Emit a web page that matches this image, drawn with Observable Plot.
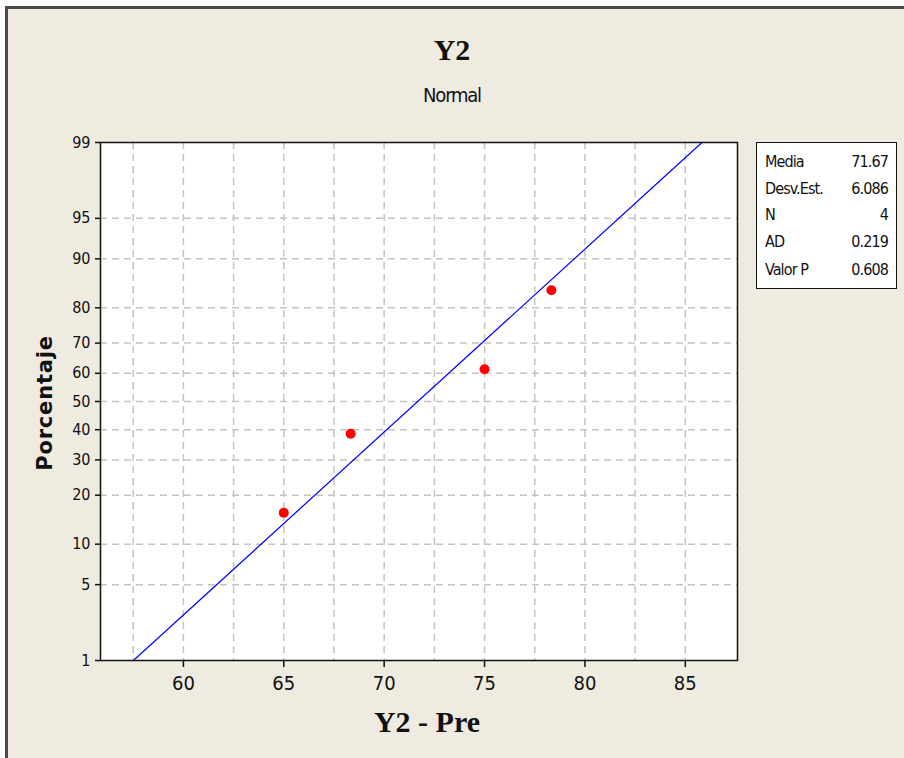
<!DOCTYPE html>
<html>
<head>
<meta charset="utf-8">
<script src="https://cdn.jsdelivr.net/npm/d3@7"></script>
<script src="https://cdn.jsdelivr.net/npm/@observablehq/plot@0.6"></script>
<style>
  html, body { margin: 0; padding: 0; background: #ffffff; }
  #page { position: relative; width: 904px; height: 758px; overflow: hidden; }
  #bg { position: absolute; left: 5px; top: 6px; width: 910px; height: 770px;
        background: #EFEBE1; border-left: 3px solid #4a4a4a; border-top: 3px solid #4a4a4a; }
  #chart { position: absolute; left: 0; top: 0; }
  #chart svg text { font-stretch: condensed; }
  .ov { position: absolute; color: #111; white-space: nowrap; }
  #title { left: 0; width: 904px; top: 33px; text-align: center; font: bold 30px "Liberation Serif", "DejaVu Serif", serif; }
  #subtitle { left: 0; width: 904px; top: 83px; text-align: center; font: 20px "DejaVu Sans Condensed", "DejaVu Sans", sans-serif; font-stretch: condensed; letter-spacing: -1.2px; }
  #xlabel { left: 277px; width: 300px; top: 705px; text-align: center; font: bold 30px "Liberation Serif", "DejaVu Serif", serif; }
  #ylabel { left: 45px; top: 403px; transform: translate(-50%, -50%) rotate(-90deg); font: bold 21px "DejaVu Sans", sans-serif; letter-spacing: 0.8px; }
  #stats { position: absolute; left: 756px; top: 142px; width: 139px; height: 145px; background: #fff; border: 1px solid #111; box-sizing: content-box; }
  #stats div { position: absolute; left: 8px; right: 8px; height: 20px; font: 16px "DejaVu Sans Condensed", "DejaVu Sans", sans-serif; font-stretch: condensed; letter-spacing: -0.9px; color: #111; }
  #stats span.v { position: absolute; right: 0; }
</style>
</head>
<body>
<div id="page">
  <div id="bg"></div>
  <div id="chart"></div>
  <div class="ov" id="title">Y2</div>
  <div class="ov" id="subtitle">Normal</div>
  <div class="ov" id="xlabel">Y2 - Pre</div>
  <div class="ov" id="ylabel">Porcentaje</div>
  <div id="stats"></div>
</div>
<script>
// ---- data ----
const obsX = [65, 68.33, 75, 78.33];
const obsP = [15.9, 38.6, 61.4, 84.1];
const fitX = [57.51, 85.83];
const fitP = [1, 99];
const xTicks = [60, 65, 70, 75, 80, 85];
const xGrid = [57.5, 60, 62.5, 65, 67.5, 70, 72.5, 75, 77.5, 80, 82.5, 85];
const pTicks = [1, 5, 10, 20, 30, 40, 50, 60, 70, 80, 90, 95, 99];
const pGrid = [5, 10, 20, 30, 40, 50, 60, 70, 80, 90, 95];
const statLabels = ["Media", "Desv.Est.", "N", "AD", "Valor P"];
const statValues = ["71.67", "6.086", "4", "0.219", "0.608"];

// inverse normal CDF (Acklam) for the probability scale
function probit(p) {
  const a = [-3.969683028665376e+01, 2.209460984245205e+02, -2.759285104469687e+02, 1.383577518672690e+02, -3.066479806614716e+01, 2.506628277459239e+00];
  const b = [-5.447609879822406e+01, 1.615858368580409e+02, -1.556989798598866e+02, 6.680131188771972e+01, -1.328068155288572e+01];
  const c = [-7.784894002430293e-03, -3.223964580411365e-01, -2.400758277161838e+00, -2.549732539343734e+00, 4.374664141464968e+00, 2.938163982698783e+00];
  const d = [7.784695709041462e-03, 3.224671290700398e-01, 2.445134137142996e+00, 3.754408661907416e+00];
  const pl = 0.02425, ph = 1 - pl;
  let q, r;
  if (p < pl) { q = Math.sqrt(-2 * Math.log(p)); return (((((c[0]*q+c[1])*q+c[2])*q+c[3])*q+c[4])*q+c[5]) / ((((d[0]*q+d[1])*q+d[2])*q+d[3])*q+1); }
  if (p <= ph) { q = p - 0.5; r = q*q; return (((((a[0]*r+a[1])*r+a[2])*r+a[3])*r+a[4])*r+a[5])*q / (((((b[0]*r+b[1])*r+b[2])*r+b[3])*r+b[4])*r+1); }
  q = Math.sqrt(-2 * Math.log(1 - p));
  return -(((((c[0]*q+c[1])*q+c[2])*q+c[3])*q+c[4])*q+c[5]) / ((((d[0]*q+d[1])*q+d[2])*q+d[3])*q+1);
}
const zOf = p => probit(p / 100);

const obs = obsX.map((x, i) => ({x, z: zOf(obsP[i])}));
const fit = fitX.map((x, i) => ({x, z: zOf(fitP[i])}));
const zTicks = pTicks.map(zOf);
const zLabel = new Map(pTicks.map(p => [zOf(p), String(p)]));

const tickFont = '"DejaVu Sans Condensed", "DejaVu Sans", sans-serif';

const chart = Plot.plot({
  width: 904, height: 758,
  marginLeft: 100, marginRight: 167, marginTop: 142, marginBottom: 98,
  style: { background: "transparent", color: "#111", fontFamily: tickFont },
  x: { domain: [55.87, 87.6] },
  y: { domain: [zOf(1), zOf(99)] },
  marks: [
    Plot.frame({ fill: "white" }),
    Plot.ruleX(xGrid, { stroke: "#c4c4c4", strokeWidth: 1.5, strokeDasharray: "7,5" }),
    Plot.ruleY(pGrid.map(zOf), { stroke: "#c4c4c4", strokeWidth: 1.5, strokeDasharray: "7,5" }),
    Plot.line(fit, { x: "x", y: "z", stroke: "#0000ff", strokeWidth: 1.2 }),
    Plot.dot(obs, { x: "x", y: "z", r: 5, fill: "#ff0000", stroke: "none" }),
    Plot.frame({ stroke: "#111", strokeWidth: 1.5 }),
    Plot.axisX({ ticks: xTicks, tickSize: 7, tickPadding: 8, fontSize: 20, label: null, stroke: "#111", strokeWidth: 1.5, letterSpacing: -1.2 }),
    Plot.axisY({ ticks: zTicks, tickSize: 5, tickPadding: 5, fontSize: 16, label: null, stroke: "#111", strokeWidth: 1.5,
                 tickFormat: z => zLabel.get(z) ?? "", letterSpacing: -1.3 })
  ]
});
document.getElementById("chart").appendChild(chart);

// stats box
const stats = document.getElementById("stats");
const rowTops = [9, 36, 62, 89, 117];
statLabels.forEach((lab, i) => {
  const row = document.createElement("div");
  row.style.top = rowTops[i] + "px";
  row.innerHTML = `<span>${lab}</span><span class="v">${statValues[i]}</span>`;
  stats.appendChild(row);
});
</script>
</body>
</html>
